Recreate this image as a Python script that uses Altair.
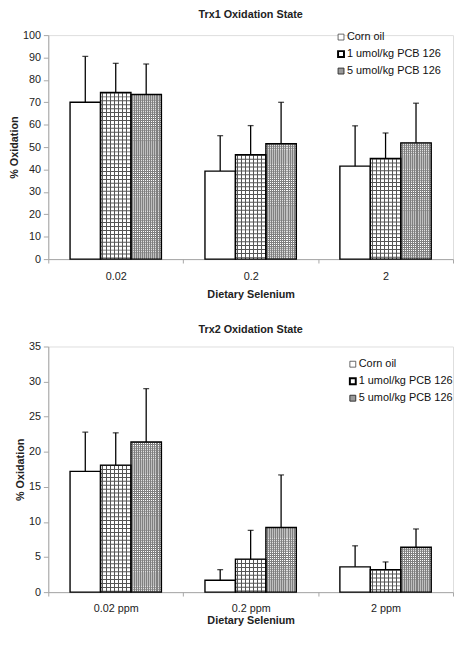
import altair as alt
import pandas as pd

# ---------------- data ----------------
groups_top = ["0.02", "0.2", "2"]
groups_bottom = ["0.02 ppm", "0.2 ppm", "2 ppm"]
series = ["Corn oil", "1 umol/kg PCB 126", "5 umol/kg PCB 126"]

trx1_corn = [70.0, 39.3, 41.5]
trx1_corn_err = [20.5, 15.8, 18.0]
trx1_pcb1 = [74.4, 46.6, 44.9]
trx1_pcb1_err = [13.0, 13.0, 11.4]
trx1_pcb5 = [73.5, 51.5, 51.9]
trx1_pcb5_err = [13.6, 18.5, 17.7]

trx2_corn = [17.2, 1.7, 3.6]
trx2_corn_err = [5.6, 1.5, 3.0]
trx2_pcb1 = [18.1, 4.7, 3.2]
trx2_pcb1_err = [4.6, 4.1, 1.1]
trx2_pcb5 = [21.4, 9.2, 6.4]
trx2_pcb5_err = [7.6, 7.5, 2.6]

top_ticks = [0, 10, 20, 30, 40, 50, 60, 70, 80, 90, 100]
bottom_ticks = [0, 5, 10, 15, 20, 25, 30, 35]

FONT = "Liberation Sans"
BAR_W = 31
PLOT_W = 412


def table(groups, vals, errs):
    rows = []
    for s, v, e in zip(series, vals, errs):
        for g, vv, ee in zip(groups, v, e):
            rows.append({"group": g, "series": s, "value": vv, "err": ee})
    return pd.DataFrame(rows)


def stripes(period, line, color):
    stops = [alt.GradientStop(color="white", offset=0)]
    x = period / 2.0
    while x + line < BAR_W:
        a = x / BAR_W
        b = (x + line) / BAR_W
        stops += [
            alt.GradientStop(color="white", offset=a),
            alt.GradientStop(color=color, offset=a),
            alt.GradientStop(color=color, offset=b),
            alt.GradientStop(color="white", offset=b),
        ]
        x += period
    stops.append(alt.GradientStop(color="white", offset=1))
    return alt.Gradient(gradient="linear", stops=stops, x1=0, x2=1, y1=0, y2=0)


def panel(df, groups, ymax, ticks, title, title_offset, x_label_pad, x_title_pad,
          height, leg_x, leg_y):
    base = alt.Chart(df).transform_calculate(upper="datum.value + datum.err")
    x = alt.X(
        "group:N",
        sort=groups,
        scale=alt.Scale(paddingInner=0, paddingOuter=0),
        axis=alt.Axis(
            title="Dietary Selenium",
            labelAngle=0,
            tickBand="extent",
            tickSize=4,
            tickColor="#a6a6a6",
            domainColor="#a6a6a6",
            labelFont=FONT,
            labelFontSize=11,
            labelColor="#222",
            labelPadding=x_label_pad,
            titleFont=FONT,
            titleFontSize=11,
            titleFontWeight="bold",
            titleColor="#222",
            titlePadding=x_title_pad,
        ),
    )
    xo = alt.XOffset(
        "series:N", sort=series, scale=alt.Scale(paddingInner=0, paddingOuter=0.715)
    )
    yscale = alt.Scale(domain=[0, ymax], nice=False, zero=True)
    yaxis = alt.Axis(
        title="% Oxidation",
        values=ticks,
        grid=False,
        labelOverlap=False,
        labelFlush=False,
        tickSize=5,
        tickColor="#a6a6a6",
        domainColor="#a6a6a6",
        labelFont=FONT,
        labelFontSize=11,
        labelColor="#222",
        labelPadding=3,
        titleFont=FONT,
        titleFontSize=11,
        titleFontWeight="bold",
        titleColor="#222",
        titlePadding=3,
    )
    y = alt.Y("value:Q", scale=yscale, axis=yaxis)
    y_up = alt.Y("upper:Q", scale=yscale, axis=yaxis)

    fill_corn = base.transform_filter(alt.datum.series == series[0]).mark_bar(
        fill="white"
    ).encode(x=x, xOffset=xo, y=y)
    fill_p1 = base.transform_filter(alt.datum.series == series[1]).mark_bar(
        fill=stripes(4, 1, "#555555")
    ).encode(x=x, xOffset=xo, y=y)
    fill_p5 = base.transform_filter(alt.datum.series == series[2]).mark_bar(
        fill=stripes(2, 1, "#808080")
    ).encode(x=x, xOffset=xo, y=y)
    hatch_p1 = base.transform_filter(alt.datum.series == series[1]).mark_rule(
        strokeWidth=BAR_W, strokeDash=[1, 3], color="#555555", clip=True
    ).encode(x=x, xOffset=xo, y=y, y2=alt.datum(0))
    hatch_p5 = base.transform_filter(alt.datum.series == series[2]).mark_rule(
        strokeWidth=BAR_W, strokeDash=[1, 1], color="#808080", clip=True
    ).encode(x=x, xOffset=xo, y=y, y2=alt.datum(0))
    outline = base.mark_bar(fillOpacity=0, stroke="black", strokeWidth=1.4).encode(
        x=x, xOffset=xo, y=y
    )
    err = base.mark_rule(color="black", strokeWidth=1.3).encode(
        x=x, xOffset=xo, y=y, y2="upper:Q"
    )
    cap = base.mark_tick(color="black", thickness=1.3, size=6).encode(
        x=x, xOffset=xo, y=y_up
    )

    legend_fill = ["white", "white", "#9a9a9a"]
    legend_stroke = ["#444", "black", "#333"]
    legend_sw = [0.8, 2.0, 1.0]
    leg_layers = []
    for i, name in enumerate(series):
        ld = pd.DataFrame({"series": [name]})
        leg_layers.append(
            alt.Chart(ld).mark_square(
                size=36, fill=legend_fill[i], stroke=legend_stroke[i],
                strokeWidth=legend_sw[i], opacity=1
            ).encode(x=alt.value(leg_x), y=alt.value(leg_y + i * 17.3))
        )
        leg_layers.append(
            alt.Chart(ld).mark_text(
                align="left", baseline="middle", font=FONT, fontSize=11.1, color="#111"
            ).encode(x=alt.value(leg_x + 6), y=alt.value(leg_y + i * 17.3), text="series:N")
        )

    return alt.layer(
        fill_corn, fill_p1, fill_p5, hatch_p1, hatch_p5, outline, err, cap, *leg_layers
    ).properties(
        width=PLOT_W,
        height=height,
        title=alt.Title(title, offset=title_offset, frame="group", font=FONT, fontSize=11,
                        fontWeight="bold", color="#222"),
    )


top = panel(
    table(groups_top, [trx1_corn, trx1_pcb1, trx1_pcb5], [trx1_corn_err, trx1_pcb1_err, trx1_pcb5_err]),
    groups_top, 100, top_ticks, "Trx1 Oxidation State", 9, 8, 7, 228, 298, 2,
)
bottom = panel(
    table(groups_bottom, [trx2_corn, trx2_pcb1, trx2_pcb5], [trx2_corn_err, trx2_pcb1_err, trx2_pcb5_err]),
    groups_bottom, 35, bottom_ticks, "Trx2 Oxidation State", 6, 7, 1, 250, 310, 18,
)

chart = (
    alt.vconcat(top, bottom, spacing=23)
    .properties(padding={"left": 0, "top": -5, "right": 0, "bottom": 0})
    .configure_view(stroke=None)
    .configure(font=FONT)
)

chart.save("out.html", embed_options={"renderer": "svg", "actions": False})
